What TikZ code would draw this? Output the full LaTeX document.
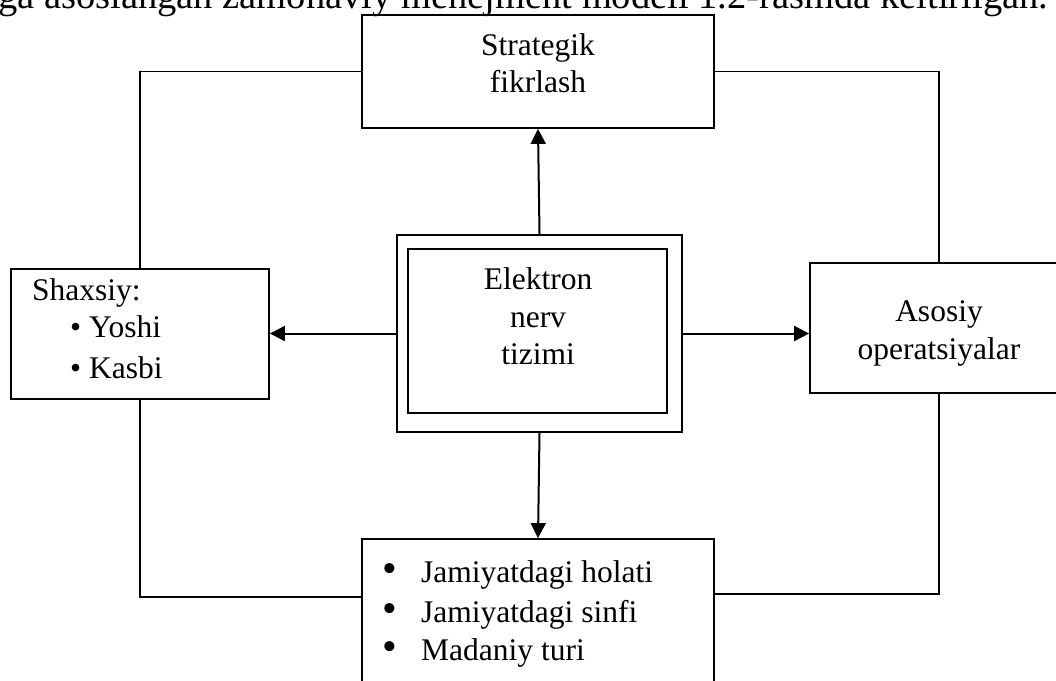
\documentclass[tikz,border=0pt]{standalone}
\usepackage{fontspec}
\setmainfont{Liberation Serif}
\usetikzlibrary{arrows.meta}

\begin{document}
\begin{tikzpicture}[x=1pt,y=-1pt,
  box/.style={draw,line width=1.8pt,inner sep=0pt,minimum width=#1},
  loopline/.style={line width=1.4pt},
  flow/.style={line width=2pt,-{Triangle[length=15pt,width=15pt]}},
  txt/.style={inner sep=0pt,font=\fontsize{31.5}{37}\selectfont},
]
\useasboundingbox (0,0) rectangle (1056,680);
\clip (0,0) rectangle (1056,680);

% boxes
\node[box=352pt,minimum height=113pt] (strat) at (538,71.5) {};
\node[box=258pt,minimum height=130pt] (shax)  at (140,334) {};
\node[box=285pt,minimum height=197pt] (outer) at (539.5,333.5) {};
\node[box=259pt,minimum height=164pt] (inner) at (537.5,331) {};
\node[box=258pt,minimum height=130pt] (asos)  at (939,328) {};
\node[box=352pt,minimum height=170pt] (bot)   at (538,624) {};

% junction points on the lower box
\coordinate (botL) at ([yshift=-59pt]bot.north west);
\coordinate (botR) at ([yshift=-56pt]bot.north east);

% sentence running along the top edge
\node[inner sep=0pt,font=\fontsize{38.5}{40}\selectfont,anchor=base west] (cap) at (-2,9)
  {ga asoslangan zamonaviy menejment modeli 1.2-rasmda keltirilgan.};

% box texts
\node[txt,anchor=base] (s1) at (538,55) {Strategik};
\node[txt,anchor=base] (s2) at (538,92) {fikrlash};

\node[txt,anchor=base] (e1) at (538,289) {Elektron};
\node[txt,anchor=base] (e2) at (538,327) {nerv};
\node[txt,anchor=base] (e3) at (538,364) {tizimi};

\node[txt,anchor=base west] (p0) at (32,300) {Shaxsiy:};
\node[txt,anchor=base west] (p1) at (70,337) {\textbullet\ Yoshi};
\node[txt,anchor=base west] (p2) at (70,378) {\textbullet\ Kasbi};

\node[txt,anchor=base] (a1) at (939,321) {Asosiy};
\node[txt,anchor=base] (a2) at (939,359) {operatsiyalar};

\foreach \yy/\tt [count=\i] in {582/Jamiyatdagi holati,622/Jamiyatdagi sinfi,660/Madaniy turi}{
  \node[txt,anchor=base] (b\i) at (390,\yy) {\fontsize{42}{42}\selectfont\textbullet};
  \node[txt,anchor=base west] (t\i) at (421,\yy) {\tt};
}

% outer ring of connectors
\draw[loopline] (strat.west) -| (shax.north);
\draw[loopline] (strat.east) -| (asos.north);
\draw[loopline] (shax.south) |- (botL);
\draw[loopline] (asos.south) |- (botR);

% arrows from the centre
\draw[flow] (outer.north) -- (strat.south);
\draw[flow] (outer.west) -- (outer.west -| shax.east);
\draw[flow] (outer.east) -- (outer.east -| asos.west);
\draw[flow] (outer.south) -- (bot.north);
\end{tikzpicture}
\end{document}
